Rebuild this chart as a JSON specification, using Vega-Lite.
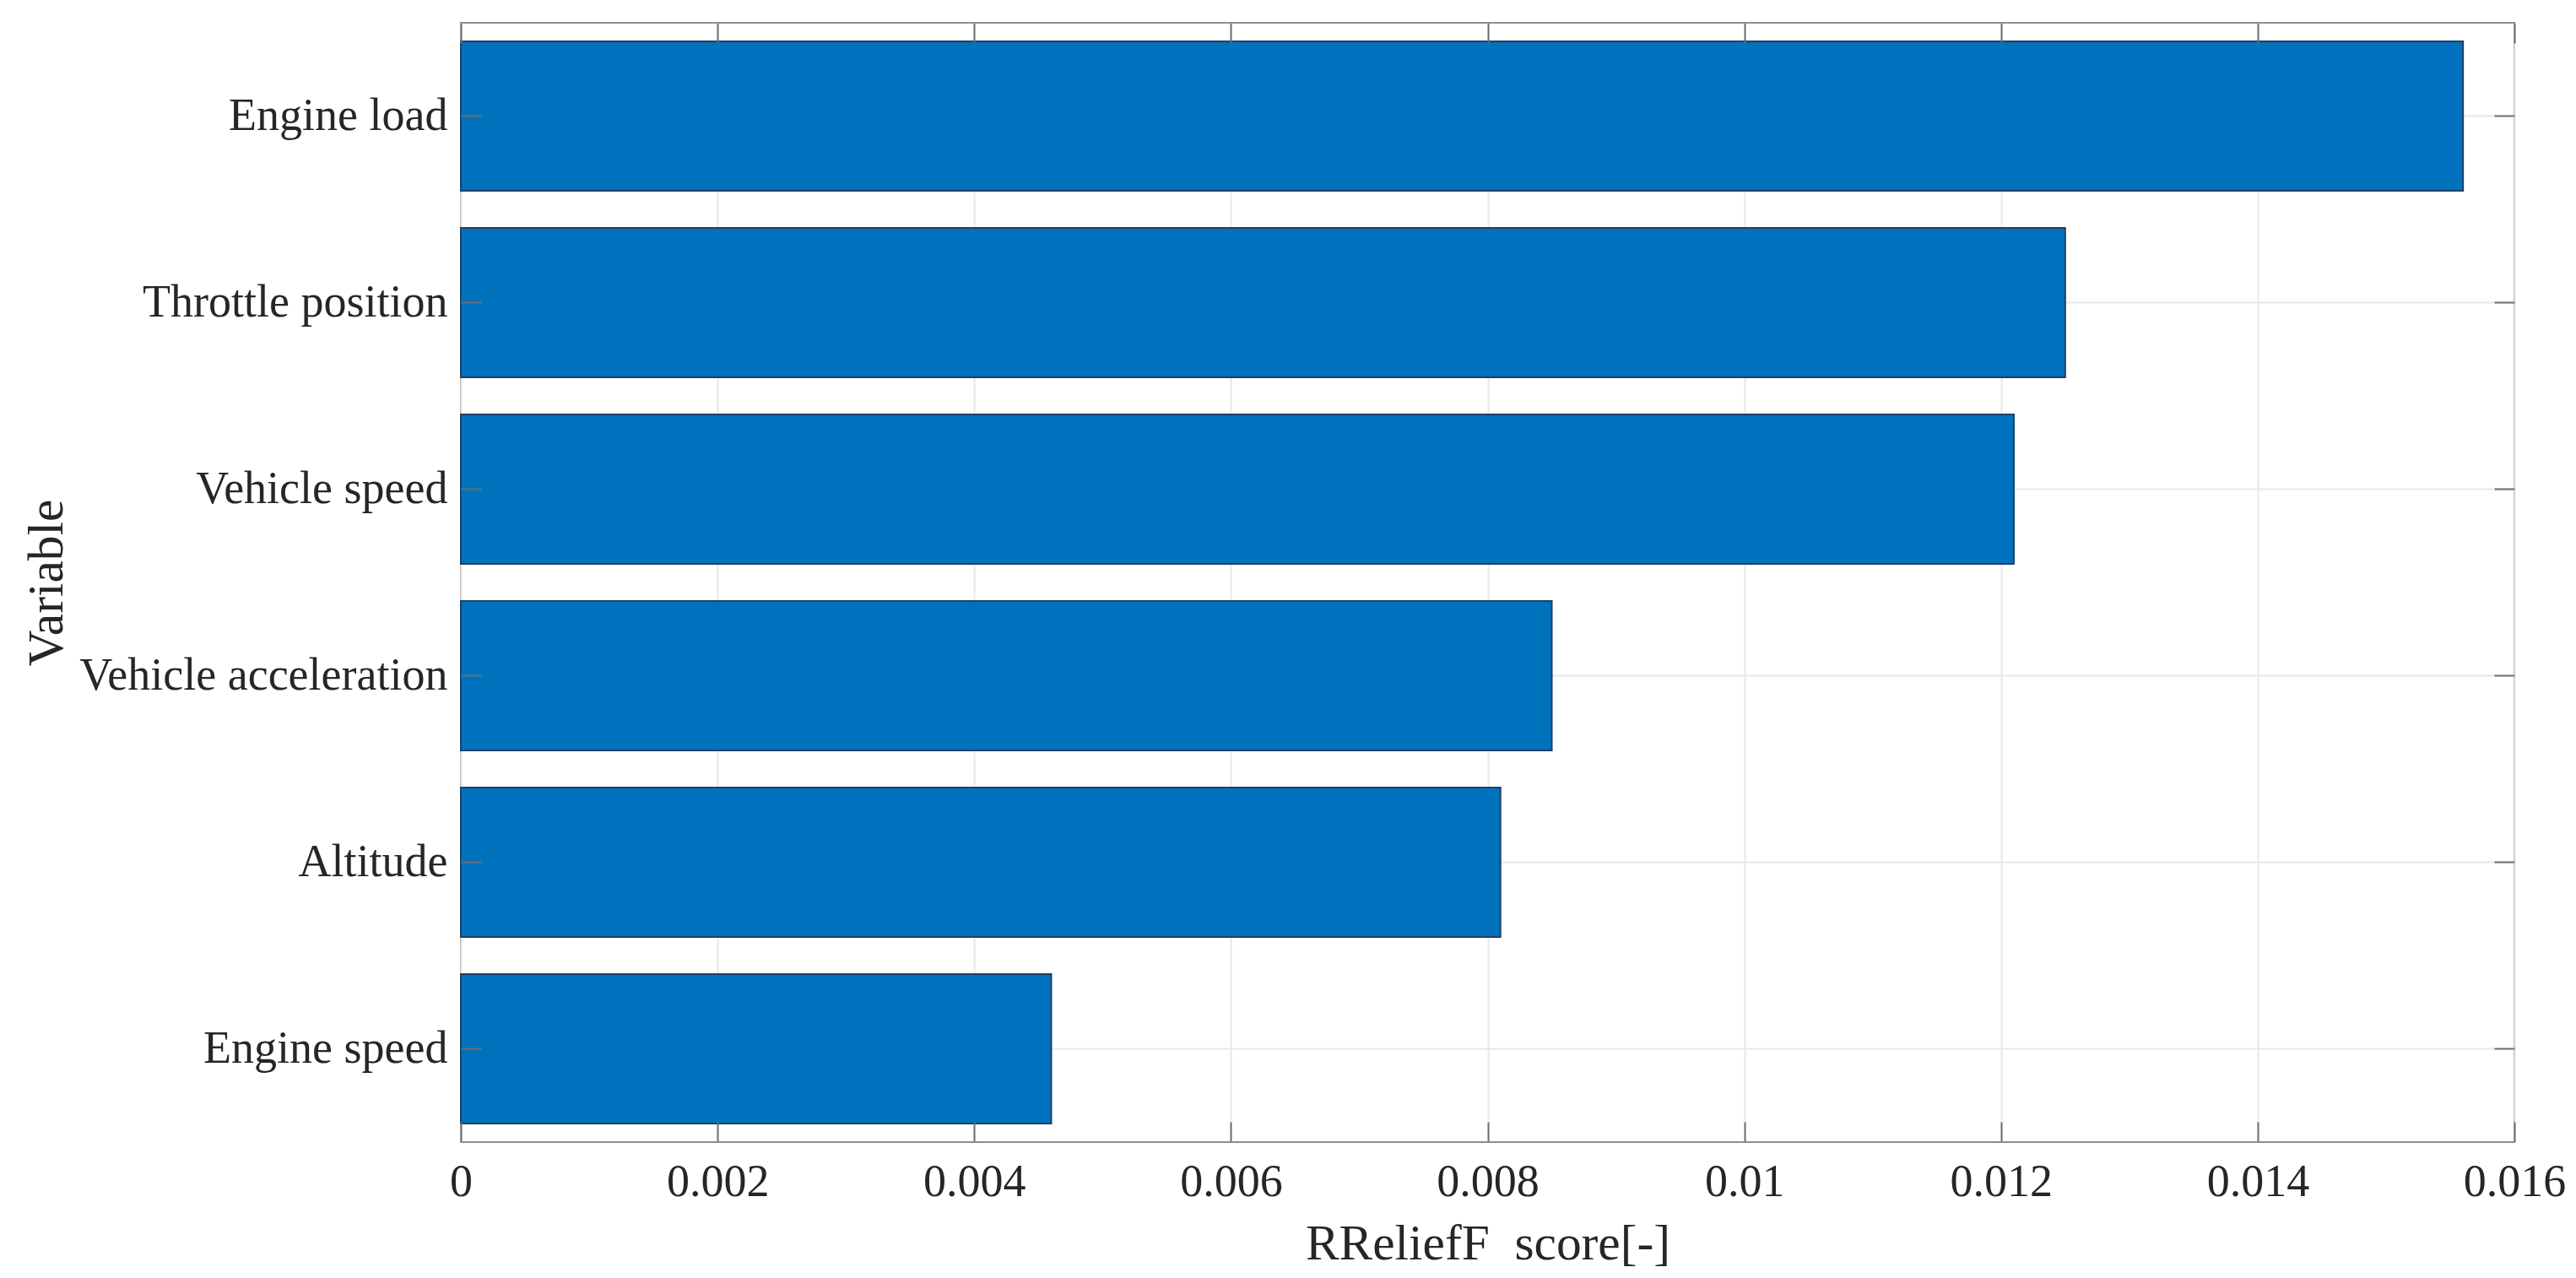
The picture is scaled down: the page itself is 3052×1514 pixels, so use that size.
{
  "$schema": "https://vega.github.io/schema/vega-lite/v6.json",
  "width": 2433,
  "height": 1326,
  "autosize": "none",
  "padding": {"left": 546, "top": 27, "right": 73, "bottom": 161},
  "background": "white",
  "config": {
    "font": "Liberation Serif",
    "view": {"stroke": "#8c8c8c", "strokeWidth": 2},
    "axis": {
      "labelFont": "Liberation Serif",
      "titleFont": "Liberation Serif",
      "labelFontSize": 54,
      "titleFontSize": 59.4,
      "labelColor": "#262626",
      "titleColor": "#262626",
      "titleFontWeight": "normal",
      "labelOverlap": false,
      "labelFlush": false,
      "labelLimit": 1000,
      "domain": false,
      "tickColor": "#6e6e6e",
      "tickWidth": 2,
      "gridColor": "#e8e8e8",
      "gridWidth": 2
    }
  },
  "data": {
    "values": [
      {"variable": "Engine load", "score": 0.0156},
      {"variable": "Throttle position", "score": 0.0125},
      {"variable": "Vehicle speed", "score": 0.0121},
      {"variable": "Vehicle acceleration", "score": 0.0085},
      {"variable": "Altitude", "score": 0.0081},
      {"variable": "Engine speed", "score": 0.0046}
    ]
  },
  "encoding": {
    "y": {
      "field": "variable",
      "type": "nominal",
      "sort": null,
      "scale": {"paddingInner": 0.2, "paddingOuter": 0.1}
    },
    "x": {
      "field": "score",
      "type": "quantitative",
      "scale": {"domain": [0, 0.016], "nice": false, "zero": true}
    }
  },
  "layer": [
    {
      "mark": {"type": "bar", "fill": "#0072BD", "stroke": "#1f3f66", "strokeWidth": 2},
      "encoding": {
        "y": {"field": "variable", "type": "nominal", "sort": null,
          "axis": {"orient": "left", "grid": true, "ticks": false, "labels": false, "domain": false, "title": null, "zindex": 0}},
        "x": {"field": "score", "type": "quantitative",
          "axis": {"orient": "bottom", "grid": true, "ticks": false, "labels": false, "domain": false, "title": null, "zindex": 0,
            "values": [0, 0.002, 0.004, 0.006, 0.008, 0.01, 0.012, 0.014, 0.016]}}
      }
    },
    {
      "mark": {"type": "bar", "opacity": 0},
      "encoding": {
        "y": {"field": "variable", "type": "nominal", "sort": null,
          "axis": {"orient": "left", "grid": false, "ticks": true, "tickSize": -24, "labelPadding": 40,
            "title": "Variable", "titlePadding": 8, "maxExtent": 1000, "zindex": 1}},
        "x": {"field": "score", "type": "quantitative",
          "axis": {"orient": "bottom", "grid": false, "ticks": true, "tickSize": -24, "labelPadding": 44,
            "format": "~g", "title": "RReliefF\u00a0 score[-]", "titlePadding": 17, "zindex": 1,
            "values": [0, 0.002, 0.004, 0.006, 0.008, 0.01, 0.012, 0.014, 0.016]}}
      }
    },
    {
      "mark": {"type": "bar", "opacity": 0},
      "encoding": {
        "y": {"field": "variable", "type": "nominal", "sort": null,
          "axis": {"orient": "right", "grid": false, "ticks": true, "tickSize": -24, "labels": false, "title": null, "zindex": 1}},
        "x": {"field": "score", "type": "quantitative",
          "axis": {"orient": "top", "grid": false, "ticks": true, "tickSize": -24, "labels": false, "title": null, "zindex": 1,
            "values": [0, 0.002, 0.004, 0.006, 0.008, 0.01, 0.012, 0.014, 0.016]}}
      }
    }
  ],
  "resolve": {"axis": {"x": "independent", "y": "independent"}}
}
